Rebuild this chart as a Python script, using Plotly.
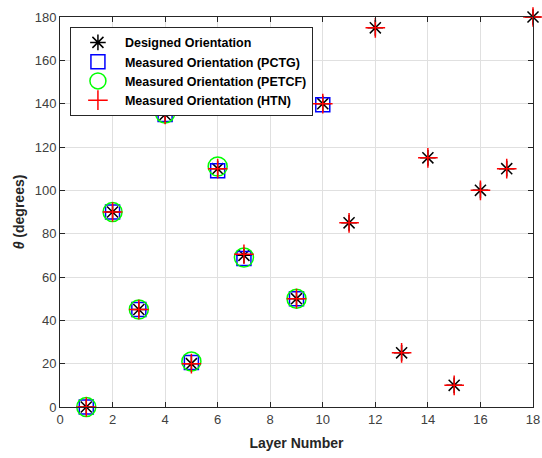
import plotly.graph_objects as go

layers_designed = [1, 2, 3, 4, 5, 6, 7, 9, 10, 11, 12, 13, 14, 15, 16, 17, 18]
designed = [0, 90, 45, 135, 20, 110, 70, 50, 140, 85, 175, 25, 115, 10, 100, 110, 180]

layers_pctg = [1, 2, 3, 4, 5, 6, 7, 9, 10]
pctg = [0, 90, 45, 135, 20.5, 109, 68.5, 50, 139.5]

layers_petcf = [1, 2, 3, 4, 5, 6, 7, 9]
petcf = [0, 90, 45, 135.5, 21, 111, 69, 50]

layers_htn = [1, 2, 3, 4, 5, 6, 7, 9, 10, 11, 12, 13, 14, 15, 16, 17, 18]
htn = [0, 90, 45, 135, 20, 110, 70.5, 50, 140, 85, 175, 25, 115, 10, 100, 110, 180]

x_ticks = list(range(0, 19, 2))
y_ticks = list(range(0, 181, 20))

fig = go.Figure()
fig.add_trace(go.Scatter(x=layers_designed, y=designed, mode="markers", name="Designed Orientation",
                         cliponaxis=False,
                         marker=dict(symbol="asterisk-open", size=13, color="black",
                                     line=dict(color="#222222", width=1.5))))
fig.add_trace(go.Scatter(x=layers_pctg, y=pctg, mode="markers", name="Measured Orientation (PCTG)",
                         cliponaxis=False,
                         marker=dict(symbol="square-open", size=14, color="blue",
                                     line=dict(color="blue", width=1.5))))
fig.add_trace(go.Scatter(x=layers_petcf, y=petcf, mode="markers", name="Measured Orientation (PETCF)",
                         cliponaxis=False,
                         marker=dict(symbol="circle-open", size=19, color="#00ff00",
                                     line=dict(color="#00ff00", width=1.5))))
fig.add_trace(go.Scatter(x=layers_htn, y=htn, mode="markers", name="Measured Orientation (HTN)",
                         cliponaxis=False,
                         marker=dict(symbol="cross-thin-open", size=14, color="red",
                                     line=dict(color="red", width=1.5))))

axis_common = dict(showgrid=True, gridcolor="#e0e0e0", gridwidth=1, zeroline=False,
                   showline=True, linecolor="#262626", linewidth=1, mirror="ticks",
                   ticks="inside", ticklen=5, tickcolor="#262626", automargin=False,
                   tickfont=dict(family="Liberation Sans, Arial", size=13, color="#404040"))

fig.update_xaxes(range=[0, 18], tickvals=x_ticks, ticktext=[str(v) for v in x_ticks],
                 title=dict(text="<b>Layer Number</b>", standoff=12,
                            font=dict(family="Liberation Sans, Arial", size=14, color="#262626")),
                 **axis_common)
fig.update_yaxes(range=[0, 180], tickvals=y_ticks, ticktext=[str(v) for v in y_ticks],
                 title=dict(text="<b><i>θ</i> (degrees)</b>", standoff=6,
                            font=dict(family="Liberation Sans, Arial", size=14, color="#262626")),
                 **axis_common)

fig.update_layout(
    width=542, height=458,
    margin=dict(l=60, r=9, t=17, b=51),
    plot_bgcolor="white", paper_bgcolor="white",
    showlegend=True,
    legend=dict(x=0.021, y=0.975, xanchor="left", yanchor="top",
                bgcolor="white", bordercolor="#262626", borderwidth=1,
                font=dict(family="Liberation Sans, Arial", size=12.5, color="black", weight="bold"),
                tracegroupgap=0, itemsizing="trace", itemwidth=44),
)

fig.write_html("out.html")
